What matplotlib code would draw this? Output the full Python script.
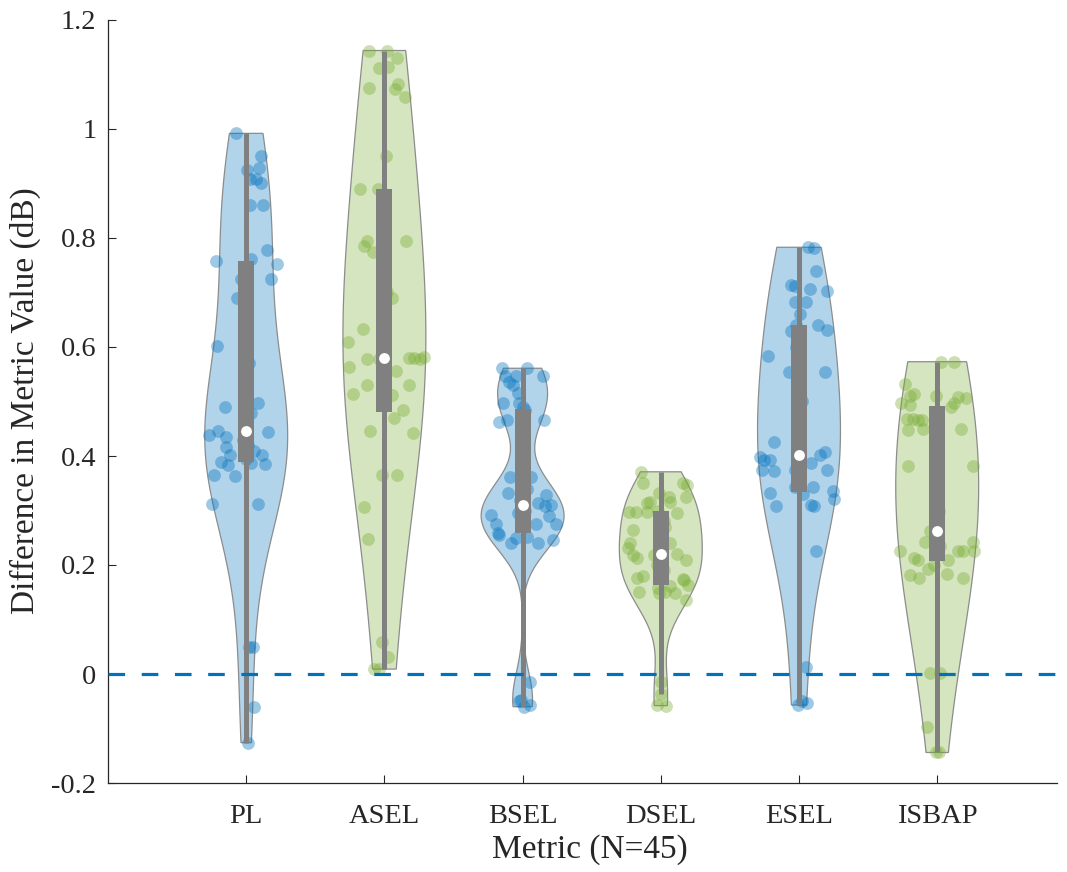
import numpy as np
import matplotlib
matplotlib.use('Agg')
import matplotlib.pyplot as plt

plt.rcParams['font.family'] = ['Liberation Serif', 'DejaVu Serif']

# metric names and the 45 differences (dB) per metric
metrics = ['PL', 'ASEL', 'BSEL', 'DSEL', 'ESEL', 'ISBAP']

pl = [0.992, 0.951, 0.924, 0.928, 0.908, 0.900, 0.908, 0.861, 0.861, 0.778, 0.753, 0.724,
      0.757, 0.762, 0.724, 0.689, 0.602, 0.497, 0.490, 0.479, 0.444, 0.438, 0.446, 0.434,
      0.417, 0.402, 0.389, 0.384, 0.410, 0.402, 0.385, 0.387, 0.365, 0.364, 0.312, 0.312,
      0.050, 0.050, -0.060, -0.126, 0.395, 0.420, 0.430, 0.445, 0.570]
asel = [1.144, 1.144, 1.112, 1.113, 1.131, 1.076, 1.083, 1.074, 1.059, 0.889, 0.889, 0.794,
        0.785, 0.774, 0.794, 0.689, 0.633, 0.610, 0.564, 0.578, 0.579, 0.580, 0.582, 0.578,
        0.556, 0.578, 0.530, 0.513, 0.530, 0.512, 0.485, 0.470, 0.446, 0.442, 0.365, 0.365,
        0.307, 0.247, 0.058, 0.032, 0.009, 0.009, 0.700, 0.850, 0.950]
bsel = [0.561, 0.561, 0.546, 0.546, 0.546, 0.535, 0.530, 0.516, 0.498, 0.498, 0.463, 0.466,
        0.466, 0.361, 0.361, 0.333, 0.328, 0.313, 0.309, 0.310, 0.289, 0.275, 0.292, 0.276,
        0.255, 0.259, 0.276, 0.240, 0.249, 0.241, 0.245, -0.014, -0.048, -0.050, -0.057, -0.060,
        0.300, 0.295, 0.280, 0.252, 0.311, 0.320, 0.340, 0.490, 0.485]
dsel = [0.371, 0.350, 0.350, 0.347, 0.332, 0.325, 0.316, 0.314, 0.315, 0.325, 0.298, 0.298,
        0.298, 0.295, 0.264, 0.240, 0.231, 0.240, 0.218, 0.212, 0.218, 0.220, 0.209, 0.179,
        0.176, 0.151, 0.149, 0.162, 0.149, 0.172, 0.163, 0.136, 0.174, -0.014, -0.036, -0.057,
        -0.058, 0.190, 0.200, 0.150, 0.158, 0.250, 0.280, 0.300, 0.270]
esel = [0.783, 0.782, 0.739, 0.714, 0.712, 0.706, 0.703, 0.683, 0.683, 0.640, 0.641, 0.632,
        0.629, 0.583, 0.554, 0.554, 0.426, 0.399, 0.393, 0.392, 0.374, 0.373, 0.408, 0.401,
        0.388, 0.375, 0.375, 0.333, 0.308, 0.344, 0.335, 0.322, 0.310, 0.309, 0.344, 0.330,
        0.226, 0.012, -0.057, -0.054, -0.050, 0.470, 0.500, 0.600, 0.660]
isbap = [0.573, 0.573, 0.533, 0.513, 0.510, 0.497, 0.494, 0.510, 0.509, 0.506, 0.497, 0.490,
         0.468, 0.468, 0.466, 0.466, 0.448, 0.449, 0.449, 0.382, 0.382, 0.262, 0.242, 0.226,
         0.212, 0.209, 0.225, 0.226, 0.243, 0.226, 0.209, 0.192, 0.182, 0.177, 0.183, 0.177,
         0.002, 0.002, -0.097, -0.144, -0.144, 0.250, 0.235, 0.200, 0.300]

# horizontal scatter offsets of the dots, as seen in the figure
pl_jit = [-0.074, 0.107, 0.008, 0.09, 0.074, 0.107, 0.025, 0.025, 0.123, 0.148, 0.221, 0.18,
          -0.221, 0.033, -0.041, -0.066, -0.213, 0.082, -0.156, 0.033, 0.156, -0.27, -0.205, -0.148,
          -0.148, -0.115, -0.18, -0.131, 0.057, 0.115, 0.139, 0.033, -0.23, -0.082, -0.246, 0.082,
          0.022, 0.046, 0.057, 0.016, 0.0, 0.01, -0.02, 0.0, 0.02]
asel_jit = [-0.109, 0.019, -0.036, 0.024, 0.089, -0.109, 0.097, 0.077, 0.152, -0.174, -0.043, -0.128,
            -0.15, -0.085, 0.157, 0.056, -0.152, -0.266, -0.258, -0.128, 0.176, 0.217, 0.283, 0.261,
            0.085, -0.036, -0.128, -0.225, 0.181, 0.056, 0.138, 0.072, -0.101, 0.21, -0.017, 0.089,
            -0.15, -0.116, -0.017, 0.024, -0.072, -0.036, 0.02, -0.02, 0.01]
bsel_jit = [-0.15, 0.03, -0.125, -0.05, 0.15, -0.1, -0.07, -0.035, -0.025, -0.14, -0.17, -0.11,
            0.155, -0.09, 0.06, -0.105, 0.17, 0.11, 0.16, 0.205, 0.19, 0.24, -0.23, -0.19,
            -0.17, -0.18, 0.10, -0.085, -0.05, 0.115, 0.22, 0.05, -0.01, -0.025, 0.05, 0.01,
            0.02, -0.03, 0.0, 0.03, 0.0, -0.02, 0.03, 0.0, 0.02]
dsel_jit = [-0.14, -0.13, 0.16, 0.19, -0.01, 0.06, -0.08, -0.1, 0.07, 0.18, -0.23, -0.18,
            -0.1, 0.12, -0.2, -0.22, -0.24, 0.07, -0.2, -0.175, -0.05, 0.12, 0.18, -0.13,
            -0.17, -0.16, -0.01, 0.07, 0.1, 0.17, 0.2, 0.18, 0.16, 0.0, 0.0, -0.025,
            0.04, 0.02, -0.03, 0.03, -0.02, 0.0, 0.02, -0.02, 0.03]
esel_jit = [0.065, 0.11, 0.12, -0.055, -0.03, 0.08, 0.205, -0.03, 0.05, -0.02, 0.14, 0.205,
            -0.055, -0.225, -0.07, 0.19, -0.18, -0.28, -0.25, -0.21, -0.27, -0.18, 0.19, 0.15,
            0.085, 0.2, -0.03, -0.21, -0.165, 0.1, 0.245, 0.25, 0.09, 0.11, -0.03, 0.03,
            0.12, 0.05, -0.01, 0.06, 0.02, 0.0, 0.02, -0.02, 0.01]
isbap_jit = [0.03, 0.125, -0.23, -0.165, -0.2, -0.26, -0.2, -0.01, 0.15, 0.21, 0.125, 0.1,
             -0.22, -0.175, -0.14, -0.11, -0.21, -0.105, 0.175, -0.21, 0.26, -0.055, -0.085, -0.27,
             -0.17, -0.14, 0.15, 0.19, 0.26, 0.265, 0.08, -0.07, -0.2, -0.13, 0.07, 0.19,
             -0.055, 0.02, -0.075, -0.01, 0.01, 0.0, 0.02, -0.02, 0.01]

ytick_vals = [-0.2, 0, 0.2, 0.4, 0.6, 0.8, 1, 1.2]
ytick_labels = ['-0.2', '0', '0.2', '0.4', '0.6', '0.8', '1', '1.2']

all_data = [pl, asel, bsel, dsel, esel, isbap]
all_jit = [pl_jit, asel_jit, bsel_jit, dsel_jit, esel_jit, isbap_jit]
smooth = [1.6, 1.6, 1.0, 1.15, 1.45, 1.5]   # bandwidth multiplier per violin

blue = (0, 0.447, 0.741)
green = (0.466, 0.674, 0.188)
gray = (0.5, 0.5, 0.5)
axcol = (0.15, 0.15, 0.15)

fig = plt.figure(figsize=(10.67, 8.72), dpi=100)
ax = fig.add_axes([108 / 1067, 89 / 872, 949 / 1067, 763 / 872])

for i, (data, jit) in enumerate(zip(all_data, all_jit)):
    pos = i + 1
    col = blue if i % 2 == 0 else green
    d = np.array(data)

    # kernel density (normal rule of thumb), cut at min/max
    sig = np.median(np.abs(d - np.median(d))) / 0.6745
    bw = smooth[i] * sig * (4 / (3 * len(d))) ** 0.2
    y = np.linspace(d.min(), d.max(), 300)
    dens = np.exp(-0.5 * ((y[:, None] - d[None, :]) / bw) ** 2).sum(axis=1)
    half = dens / dens.max() * 0.3
    xs = np.concatenate([pos + half, (pos - half)[::-1]])
    ys = np.concatenate([y, y[::-1]])
    ax.fill(xs, ys, facecolor=col, alpha=0.3, edgecolor='none', zorder=1)
    ax.fill(xs, ys, facecolor='none', edgecolor=(0.55, 0.55, 0.55), lw=0.9, zorder=1.5)

    ax.scatter(pos + np.array(jit), d, s=85, color=col, alpha=0.38,
               linewidths=0, zorder=2)

    q1, med, q3 = np.quantile(d, [0.25, 0.5, 0.75], method='hazen')
    iqr = q3 - q1
    lo = max(q1 - 1.5 * iqr, d[d > q1 - 1.5 * iqr].min())
    hi = min(q3 + 1.5 * iqr, d[d < q3 + 1.5 * iqr].max())
    ax.plot([pos, pos], [lo, hi], color=gray, lw=3.6, solid_capstyle='butt', zorder=3)
    ax.bar(pos, q3 - q1, bottom=q1, width=0.116, color=gray, zorder=4)
    ax.plot(pos, med, 'o', ms=7.8, mfc='white', mec='none', zorder=5)

# zero reference line
ax.axhline(0, color=blue, lw=2.3, ls=(0, (5.2, 5.2)), zorder=6)

ax.set_xlim(0, 949 / 138.2)
ax.set_ylim(-0.2, 1.2)
ax.set_xticks(range(1, len(metrics) + 1))
ax.set_xticklabels(metrics)
ax.set_yticks(ytick_vals)
ax.set_yticklabels(ytick_labels)

for s in ['top', 'right']:
    ax.spines[s].set_visible(False)
for s in ['left', 'bottom']:
    ax.spines[s].set_color(axcol)
    ax.spines[s].set_linewidth(0.9)
ax.tick_params(direction='in', length=5.5, width=0.8, color=axcol,
               labelcolor=axcol, labelsize=20.5, pad=8.5)
ax.tick_params(axis='x', pad=15)

fig.text(25 / 1067, 1 - 401 / 872, 'Difference in Metric Value (dB)', rotation=90,
         ha='center', va='center', fontsize=24, color=axcol)
fig.text(590 / 1067, 1 - 850 / 872, 'Metric (N=45)',
         ha='center', va='center', fontsize=24, color=axcol)

fig.savefig('out.png', dpi=100)
